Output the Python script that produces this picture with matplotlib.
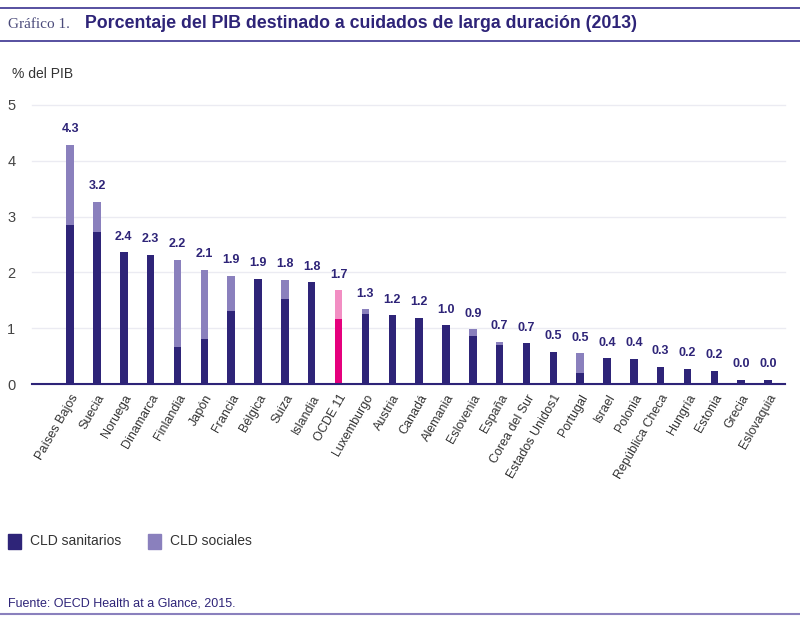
import matplotlib
matplotlib.use("Agg")
import matplotlib.pyplot as plt
import numpy as np

paises = ["Países Bajos", "Suecia", "Noruega", "Dinamarca", "Finlandia", "Japón",
          "Francia", "Bélgica", "Suiza", "Islandia", "OCDE 11", "Luxemburgo",
          "Austria", "Canadá", "Alemania", "Eslovenia", "España", "Corea del Sur",
          "Estados Unidos1", "Portugal", "Israel", "Polonia", "República Checa",
          "Hungría", "Estonia", "Grecia", "Eslovaquia"]
sanitarios = [2.85, 2.72, 2.36, 2.31, 0.67, 0.80, 1.30, 1.89, 1.52, 1.82, 1.16, 1.25,
              1.23, 1.19, 1.05, 0.86, 0.69, 0.73, 0.57, 0.19, 0.46, 0.45, 0.31,
              0.27, 0.23, 0.07, 0.07]
sociales = [1.43, 0.54, 0.0, 0.0, 1.56, 1.25, 0.64, 0.0, 0.34, 0.0, 0.52, 0.09,
            0.0, 0.0, 0.0, 0.12, 0.06, 0.0, 0.0, 0.36, 0.0, 0.0, 0.0,
            0.0, 0.0, 0.0, 0.0]
etiquetas = ["4.3", "3.2", "2.4", "2.3", "2.2", "2.1", "1.9", "1.9", "1.8", "1.8", "1.7",
             "1.3", "1.2", "1.2", "1.0", "0.9", "0.7", "0.7", "0.5", "0.5", "0.4",
             "0.4", "0.3", "0.2", "0.2", "0.0", "0.0"]

navy = "#2e2478"
lila = "#8a80bd"
rosa = "#e5007d"
rosa_cl = "#f28ec3"
W, H = 800, 620

plt.rcParams['font.family'] = ['Liberation Sans', 'DejaVu Sans']

fig = plt.figure(figsize=(8, 6.2), dpi=100)
ax = fig.add_axes([32 / W, 1 - 384 / H, (785 - 32) / W, (384 - 105) / H])

x = np.arange(len(paises))
c1 = [rosa if p == "OCDE 11" else navy for p in paises]
c2 = [rosa_cl if p == "OCDE 11" else lila for p in paises]
ax.bar(x, sanitarios, width=0.28, color=c1, zorder=3)
ax.bar(x, sociales, width=0.28, bottom=sanitarios, color=c2, zorder=3)

tot = np.array(sanitarios) + np.array(sociales)
for i in range(len(paises)):
    ax.annotate(etiquetas[i], (x[i], tot[i]), xytext=(0, 7), textcoords="offset points",
                ha="center", va="bottom", fontsize=9, fontweight="bold", color=navy)

ax.set_xlim(-1.42, 26.63)
ax.set_ylim(0, 5)
ax.set_yticks([0, 1, 2, 3, 4, 5])
ax.tick_params(axis="y", length=0, labelsize=10.5, colors="#444444", pad=12)
ax.set_xticks(x)
ax.set_xticklabels(paises, rotation=60, ha="right", rotation_mode="anchor",
                   fontsize=9, color="#333333")
ax.tick_params(axis="x", length=0, pad=6)
ax.grid(axis="y", color="#ebebf2", linewidth=1, clip_on=False)
for s in ["top", "right", "left"]:
    ax.spines[s].set_visible(False)
ax.spines["bottom"].set_color(navy)
ax.spines["bottom"].set_linewidth(1.5)
ax.spines["bottom"].set_zorder(4)

# cabecera
fig.add_artist(plt.Line2D([0, 1], [1 - 8 / H, 1 - 8 / H], color="#3a3190", lw=1.2))
fig.add_artist(plt.Line2D([0, 1], [1 - 41 / H, 1 - 41 / H], color="#3a3190", lw=1.2))
fig.text(8 / W, 1 - 24 / H, "Gráfico 1.", family="Liberation Serif", fontsize=11,
         color="#4a4a7a", va="center")
fig.text(85 / W, 1 - 24 / H, "Porcentaje del PIB destinado a cuidados de larga duración (2013)",
         fontsize=12.8, fontweight="bold", color=navy, va="center")
fig.text(12 / W, 1 - 74 / H, "% del PIB", fontsize=10, color="#333333", va="center")

# leyenda
fig.patches.append(plt.Rectangle((8 / W, 1 - 549 / H), 13 / W, 15 / H, color=navy,
                                 transform=fig.transFigure))
fig.text(30 / W, 1 - 541 / H, "CLD sanitarios", fontsize=10, color="#333333", va="center")
fig.patches.append(plt.Rectangle((148 / W, 1 - 549 / H), 13 / W, 15 / H, color=lila,
                                 transform=fig.transFigure))
fig.text(170 / W, 1 - 541 / H, "CLD sociales", fontsize=10, color="#333333", va="center")

fig.text(8 / W, 1 - 603 / H, "Fuente: OECD Health at a Glance, 2015.", fontsize=9,
         color=navy, va="center")
fig.add_artist(plt.Line2D([0, 1], [1 - 614 / H, 1 - 614 / H], color="#8a80bd", lw=1.5))

fig.savefig("out.png", dpi=100)
